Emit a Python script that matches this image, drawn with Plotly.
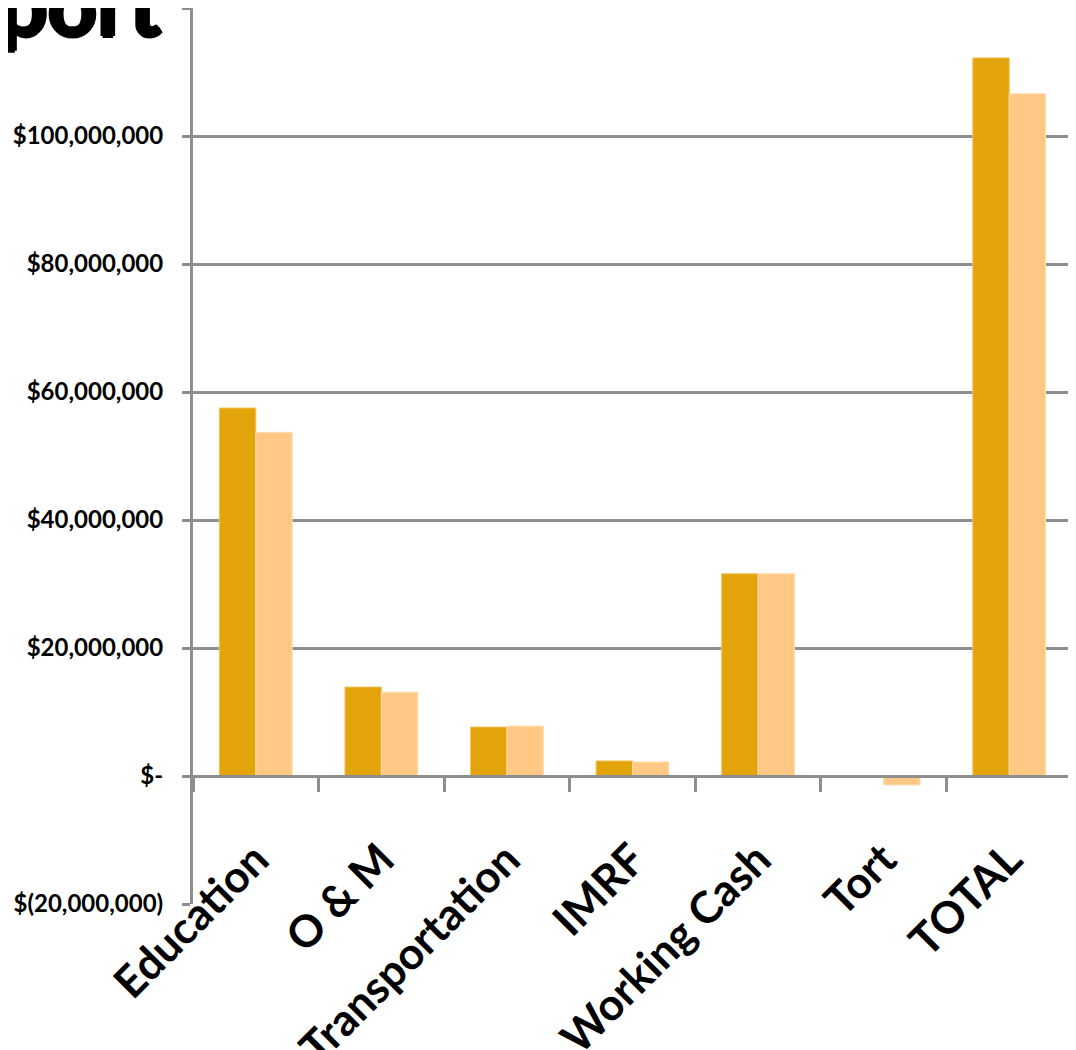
import plotly.graph_objects as go

categories = ["Education", "O & M", "Transportation", "IMRF", "Working Cash", "Tort", "TOTAL"]
series_a = [57.5e6, 13.9e6, 7.65e6, 2.35e6, 31.6e6, 0.0, 112.2e6]
series_b = [53.7e6, 13.1e6, 7.8e6, 2.2e6, 31.6e6, -1.4e6, 106.6e6]
ytick_vals = [-20e6, 0, 20e6, 40e6, 60e6, 80e6, 100e6, 120e6]
ytick_text = ["$(20,000,000)", "$-", "$20,000,000", "$40,000,000", "$60,000,000",
              "$80,000,000", "$100,000,000",
              '<span style="color:white;text-shadow:1px 0 0 #000,-1px 0 0 #000,'
              '0 1px 0 #000,0 -1px 0 #000">$120,000,000</span>']

GRID = "#8e8e8e"
# page body has an 8px margin, so the figure is offset by (8, 8) in the window
W, H = 1068, 1042
ML, MR, MT, MB = 185, 4, 0, 146

fig = go.Figure()
fig.add_trace(go.Bar(x=categories, y=series_a, name="Series 1",
                     marker=dict(color="#E2A40A", line=dict(color="#F0C35C", width=1))))
fig.add_trace(go.Bar(x=categories, y=series_b, name="Series 2",
                     marker=dict(color="#FFC985", line=dict(color="#FFDDB2", width=1))))

ymin, ymax = -20e6, 120e6
fig.update_layout(
    width=W, height=H,
    margin=dict(l=ML, r=MR, t=MT, b=MB, autoexpand=False),
    paper_bgcolor="white", plot_bgcolor="white",
    barmode="group", bargap=0.42, bargroupgap=0,
    showlegend=False,
    font=dict(family="Lato", color="black"),
)
fig.update_yaxes(
    range=[ymin, ymax], tickvals=ytick_vals, ticktext=ytick_text,
    automargin=False,
    showgrid=True, gridcolor=GRID, gridwidth=2.5,
    zeroline=True, zerolinecolor=GRID, zerolinewidth=3,
    showline=True, linecolor=GRID, linewidth=3,
    ticks="outside", ticklen=8, tickwidth=2.5, tickcolor=GRID,
    ticklabelstandoff=14,
    tickfont=dict(family="Lato", size=24, weight="bold", color="black"),
)
fig.update_xaxes(
    type="category", anchor="free", position=(0 - ymin) / (ymax - ymin),
    automargin=False,
    showline=True, linecolor=GRID, linewidth=3,
    ticks="outside", tickson="boundaries", ticklen=14, tickwidth=3, tickcolor=GRID,
    tickangle=-45, ticklabelstandoff=38,
    tickfont=dict(family="Lato", size=44, weight="bold", color="black"),
)
plot_w = W - ML - MR
plot_h = H - MT - MB

def px_x(sx):  # screen x -> paper x
    return (sx - 8 - ML) / plot_w

def px_y(sy):  # screen y -> paper y
    return 1 - (sy - 8 - MT) / plot_h

# clipped slide title fragment behind the top tick label
fig.add_shape(
    type="rect", xref="paper", yref="paper", layer="below",
    x0=px_x(-4), x1=px_x(180), y0=px_y(53), y1=px_y(-60),
    line=dict(width=0), fillcolor="rgba(0,0,0,0)",
    label=dict(text="port", textposition="bottom left", padding=0,
               font=dict(family="Lato", size=86, weight="bold", color="black",
                         shadow="2px 0 0 black, -2px 0 0 black, 0 2px 0 black, 0 -2px 0 black")),
)
fig.write_html("out.html")
